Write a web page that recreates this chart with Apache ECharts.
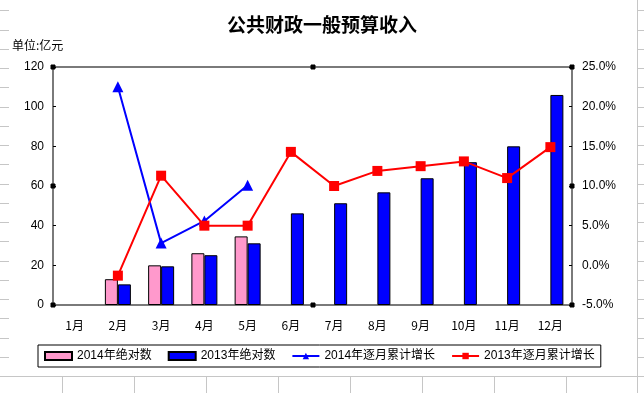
<!DOCTYPE html>
<html>
<head>
<meta charset="utf-8">
<script src="https://cdn.jsdelivr.net/npm/echarts@6/dist/echarts.min.js"></script>
<style>html,body{margin:0;padding:0;background:#fff;}#c{width:644px;height:393px;}</style>
</head>
<body>
<div id="c"></div>
<script>
const categories = ['1月','2月','3月','4月','5月','6月','7月','8月','9月','10月','11月','12月'];
const abs2014 = [null, 13.0, 20.0, 26.1, 34.6, null, null, null, null, null, null, null];
const abs2013 = [null, 10.4, 19.5, 25.1, 31.1, 46.2, 51.3, 56.8, 63.9, 72.0, 80.0, 105.9];
const growth2014 = [null, 22.5, 2.8, 5.6, 10.1, null, null, null, null, null, null, null];
const growth2013 = [null, -1.3, 11.3, 5.0, 5.0, 14.3, 10.0, 11.9, 12.5, 13.1, 11.0, 14.9];
const seriesNames = ['2014年绝对数', '2013年绝对数', '2014年逐月累计增长', '2013年逐月累计增长'];
const leftAxis = {min: 0, max: 120, interval: 20};
const rightAxis = {min: -5, max: 25, interval: 5};

// layout constants
const G = {left: 53, right: 572, top: 67, bottom: 305};
const W = 644, H = 393;

// Excel sheet gridlines (decoration around the chart object)
const gl = [];
const gridColor = '#c6c6c6';
for (let k = 0; k < 20; k++) {
  const y = Math.round(376 - 19.25 * k) + 0.5;
  if (y < 0) break;
  gl.push({type: 'line', silent: true, shape: {x1: 0, y1: y, x2: 9, y2: y}, style: {stroke: gridColor, lineWidth: 1}});
  gl.push({type: 'line', silent: true, shape: {x1: 637.5, y1: y, x2: W, y2: y}, style: {stroke: gridColor, lineWidth: 1}});
}
gl.push({type: 'line', silent: true, shape: {x1: 0, y1: 376.5, x2: W, y2: 376.5}, style: {stroke: gridColor, lineWidth: 1}});
gl.push({type: 'line', silent: true, shape: {x1: 637.5, y1: 0, x2: 637.5, y2: H}, style: {stroke: gridColor, lineWidth: 1}});
for (let k = 0; k < 8; k++) {
  const x = Math.round(61.7 + 72 * k) + 0.5;
  gl.push({type: 'line', silent: true, shape: {x1: x, y1: 376, x2: x, y2: H}, style: {stroke: gridColor, lineWidth: 1}});
}
// selection handles on plot area
const midX = (G.left + G.right) / 2, midY = (G.top + G.bottom) / 2;
[[G.left, G.top], [midX, G.top], [G.right, G.top], [G.left, midY], [G.right, midY], [G.left, G.bottom], [midX, G.bottom], [G.right, G.bottom]].forEach(p => {
  gl.push({type: 'rect', silent: true, z: 100, shape: {x: Math.round(p[0]) - 2, y: Math.round(p[1]) - 2, width: 4, height: 4}, style: {fill: '#000', stroke: '#000', lineWidth: 1}});
});

const chart = echarts.init(document.getElementById('c'), null, {renderer: 'canvas'});
const axisLineStyle = {color: '#7a7a7a', width: 2, type: 'solid'};
const fontNum = '"Liberation Sans", Arial, "Noto Sans CJK SC", sans-serif';
chart.setOption({
  backgroundColor: '#fff',
  animation: false,
  title: [
    {text: '公共财政一般预算收入', left: 'center', top: 10, textStyle: {fontSize: 19, fontWeight: 'bold', color: '#000', fontFamily: '"Noto Sans CJK SC", sans-serif'}},
    {text: '单位:亿元', left: 7, top: 34, textStyle: {fontSize: 12, fontWeight: 'normal', color: '#000', fontFamily: '"Noto Sans CJK SC", sans-serif'}}
  ],
  graphic: gl,
  grid: {left: G.left, right: W - G.right, top: G.top, bottom: H - G.bottom, containLabel: false},
  legend: {
    data: [
      {name: seriesNames[0], icon: 'rect'},
      {name: seriesNames[1], icon: 'rect'},
      {name: seriesNames[2]},
      {name: seriesNames[3]}
    ],
    left: 38, top: 345,
    itemWidth: 27, itemHeight: 8, itemGap: 16,
    padding: [5, 6],
    borderColor: '#000', borderWidth: 1,
    textStyle: {fontSize: 12, color: '#000', fontFamily: fontNum}
  },
  xAxis: [
    {type: 'category', data: categories, position: 'bottom',
     axisLine: {show: true, onZero: false, lineStyle: axisLineStyle}, axisTick: {show: false},
     axisLabel: {color: '#000', fontSize: 12, margin: 14, fontFamily: '"Noto Sans CJK SC", sans-serif'}, splitLine: {show: false}},
    {type: 'category', data: categories, position: 'top',
     axisLine: {show: true, onZero: false, lineStyle: axisLineStyle}, axisTick: {show: false},
     axisLabel: {show: false}, splitLine: {show: false}}
  ],
  yAxis: [
    {type: 'value', min: leftAxis.min, max: leftAxis.max, interval: leftAxis.interval, position: 'left',
     axisLine: {show: true, onZero: false, lineStyle: axisLineStyle},
     axisTick: {show: true, inside: true, length: 3, lineStyle: {color: '#000'}},
     axisLabel: {color: '#000', fontSize: 12, margin: 9, fontFamily: fontNum},
     splitLine: {show: false}},
    {type: 'value', min: rightAxis.min, max: rightAxis.max, interval: rightAxis.interval, position: 'right',
     axisLine: {show: true, onZero: false, lineStyle: axisLineStyle},
     axisTick: {show: true, inside: true, length: 3, lineStyle: {color: '#000'}},
     axisLabel: {color: '#000', fontSize: 12, margin: 10, fontFamily: fontNum, formatter: v => v.toFixed(1) + '%'},
     splitLine: {show: false}}
  ],
  series: [
    {name: seriesNames[0], type: 'bar', data: abs2014, xAxisIndex: 0, yAxisIndex: 0,
     barWidth: 13, barGap: '0%',
     itemStyle: {color: '#FF99CC', borderColor: '#000', borderWidth: 1}},
    {name: seriesNames[1], type: 'bar', data: abs2013, xAxisIndex: 0, yAxisIndex: 0,
     barWidth: 13, barGap: '0%',
     itemStyle: {color: '#0000FF', borderColor: '#000', borderWidth: 1}},
    {name: seriesNames[2], type: 'line', data: growth2014, xAxisIndex: 0, yAxisIndex: 1,
     symbol: 'triangle', symbolSize: 11, connectNulls: false, z: 5,
     lineStyle: {color: '#0000FF', width: 2}, itemStyle: {color: '#0000FF'}},
    {name: seriesNames[3], type: 'line', data: growth2013, xAxisIndex: 0, yAxisIndex: 1,
     symbol: 'rect', symbolSize: 10, connectNulls: false, z: 6,
     lineStyle: {color: '#FF0000', width: 2}, itemStyle: {color: '#FF0000'}}
  ]
});
</script>
</body>
</html>
